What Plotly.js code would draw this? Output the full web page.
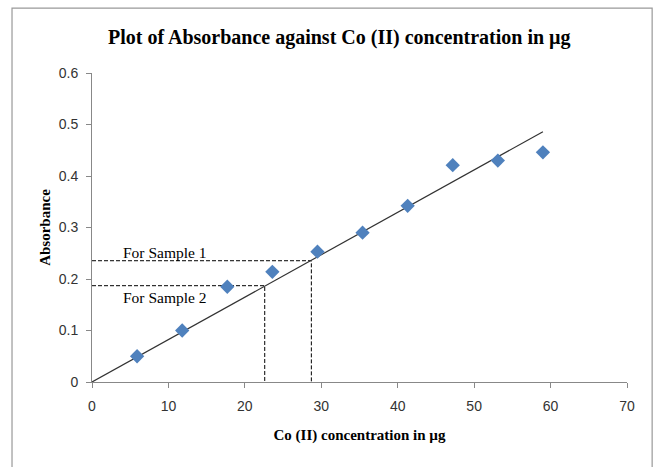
<!DOCTYPE html>
<html>
<head>
<meta charset="utf-8">
<script src="https://cdn.plot.ly/plotly-3.0.1.min.js"></script>
<style>html,body{margin:0;padding:0;background:#fff;}#chart{width:655px;height:467px;}</style>
</head>
<body>
<div id="chart"></div>
<script>
// Data
const concentration = [5.9, 11.8, 17.7, 23.6, 29.5, 35.4, 41.3, 47.2, 53.1, 59.0];
const absorbance = [0.050, 0.100, 0.185, 0.214, 0.253, 0.290, 0.342, 0.421, 0.430, 0.446];
const trendX = [0, 59.0];
const trendY = [0, 0.486];
const sample1 = {x: 28.7, y: 0.2355, label: "For Sample 1", labelY: 0.251};
const sample2 = {x: 22.6, y: 0.187, label: "For Sample 2", labelY: 0.165};
const xTicks = [0, 10, 20, 30, 40, 50, 60, 70];
const yTicks = [0, 0.1, 0.2, 0.3, 0.4, 0.5, 0.6];

const serif = "Liberation Serif, DejaVu Serif, serif";
const sans = "Liberation Sans, Arial, sans-serif";

function dashTrace(s) {
  return {
    x: [0, s.x, s.x], y: [s.y, s.y, 0], mode: 'lines', type: 'scatter',
    line: {color: '#000', width: 1, dash: '4px,2px'}, hoverinfo: 'skip', showlegend: false
  };
}

const traces = [
  dashTrace(sample1),
  dashTrace(sample2),
  {x: trendX, y: trendY, mode: 'lines', type: 'scatter',
   line: {color: '#333', width: 1.2}, showlegend: false},
  {x: concentration, y: absorbance, mode: 'markers', type: 'scatter',
   marker: {symbol: 'diamond', size: 11, color: '#4F81BD'}, showlegend: false}
];

const layout = {
  width: 655, height: 467,
  margin: {l: 92, r: 28, t: 73, b: 85},
  paper_bgcolor: '#fff', plot_bgcolor: '#fff',
  showlegend: false,
  title: {text: '<b>Plot of Absorbance against Co (II) concentration in µg</b>',
          font: {family: serif, size: 20, color: '#000'},
          x: 0.518, xanchor: 'center', y: 0.92, yanchor: 'middle'},
  xaxis: {range: [0, 70], tickvals: xTicks, ticktext: xTicks.map(String),
          showgrid: false, zeroline: false, showline: true, linecolor: '#888', linewidth: 1,
          ticks: 'outside', ticklen: 5, tickcolor: '#888', ticklabelstandoff: 6,
          tickfont: {family: sans, size: 14, color: '#333'},
          title: {text: '<b>Co (II) concentration in µg</b>', font: {family: serif, size: 15, color: '#000'}, standoff: 16}},
  yaxis: {range: [0, 0.6], tickvals: yTicks, ticktext: yTicks.map(String),
          showgrid: false, zeroline: false, showline: true, linecolor: '#888', linewidth: 1,
          ticks: 'outside', ticklen: 5, tickcolor: '#888', ticklabelstandoff: 5,
          tickfont: {family: sans, size: 14, color: '#333'},
          title: {text: '<b>Absorbance</b>', font: {family: serif, size: 15, color: '#000'}, standoff: 4}},
  annotations: [
    {x: 3.8, y: sample1.labelY, xref: 'x', yref: 'y', text: sample1.label, showarrow: false,
     xanchor: 'left', yanchor: 'middle', font: {family: serif, size: 15.5, color: '#000'}},
    {x: 3.8, y: sample2.labelY, xref: 'x', yref: 'y', text: sample2.label, showarrow: false,
     xanchor: 'left', yanchor: 'middle', font: {family: serif, size: 15.5, color: '#000'}}
  ],
  shapes: [
    {type: 'rect', xref: 'paper', yref: 'paper', x0: -0.1495, x1: 1.047, y0: -0.35, y1: 1.21,
     line: {color: '#999', width: 1.2}, fillcolor: 'rgba(0,0,0,0)', layer: 'below'}
  ]
};

Plotly.newPlot('chart', traces, layout, {displayModeBar: false, staticPlot: true});
</script>
</body>
</html>
